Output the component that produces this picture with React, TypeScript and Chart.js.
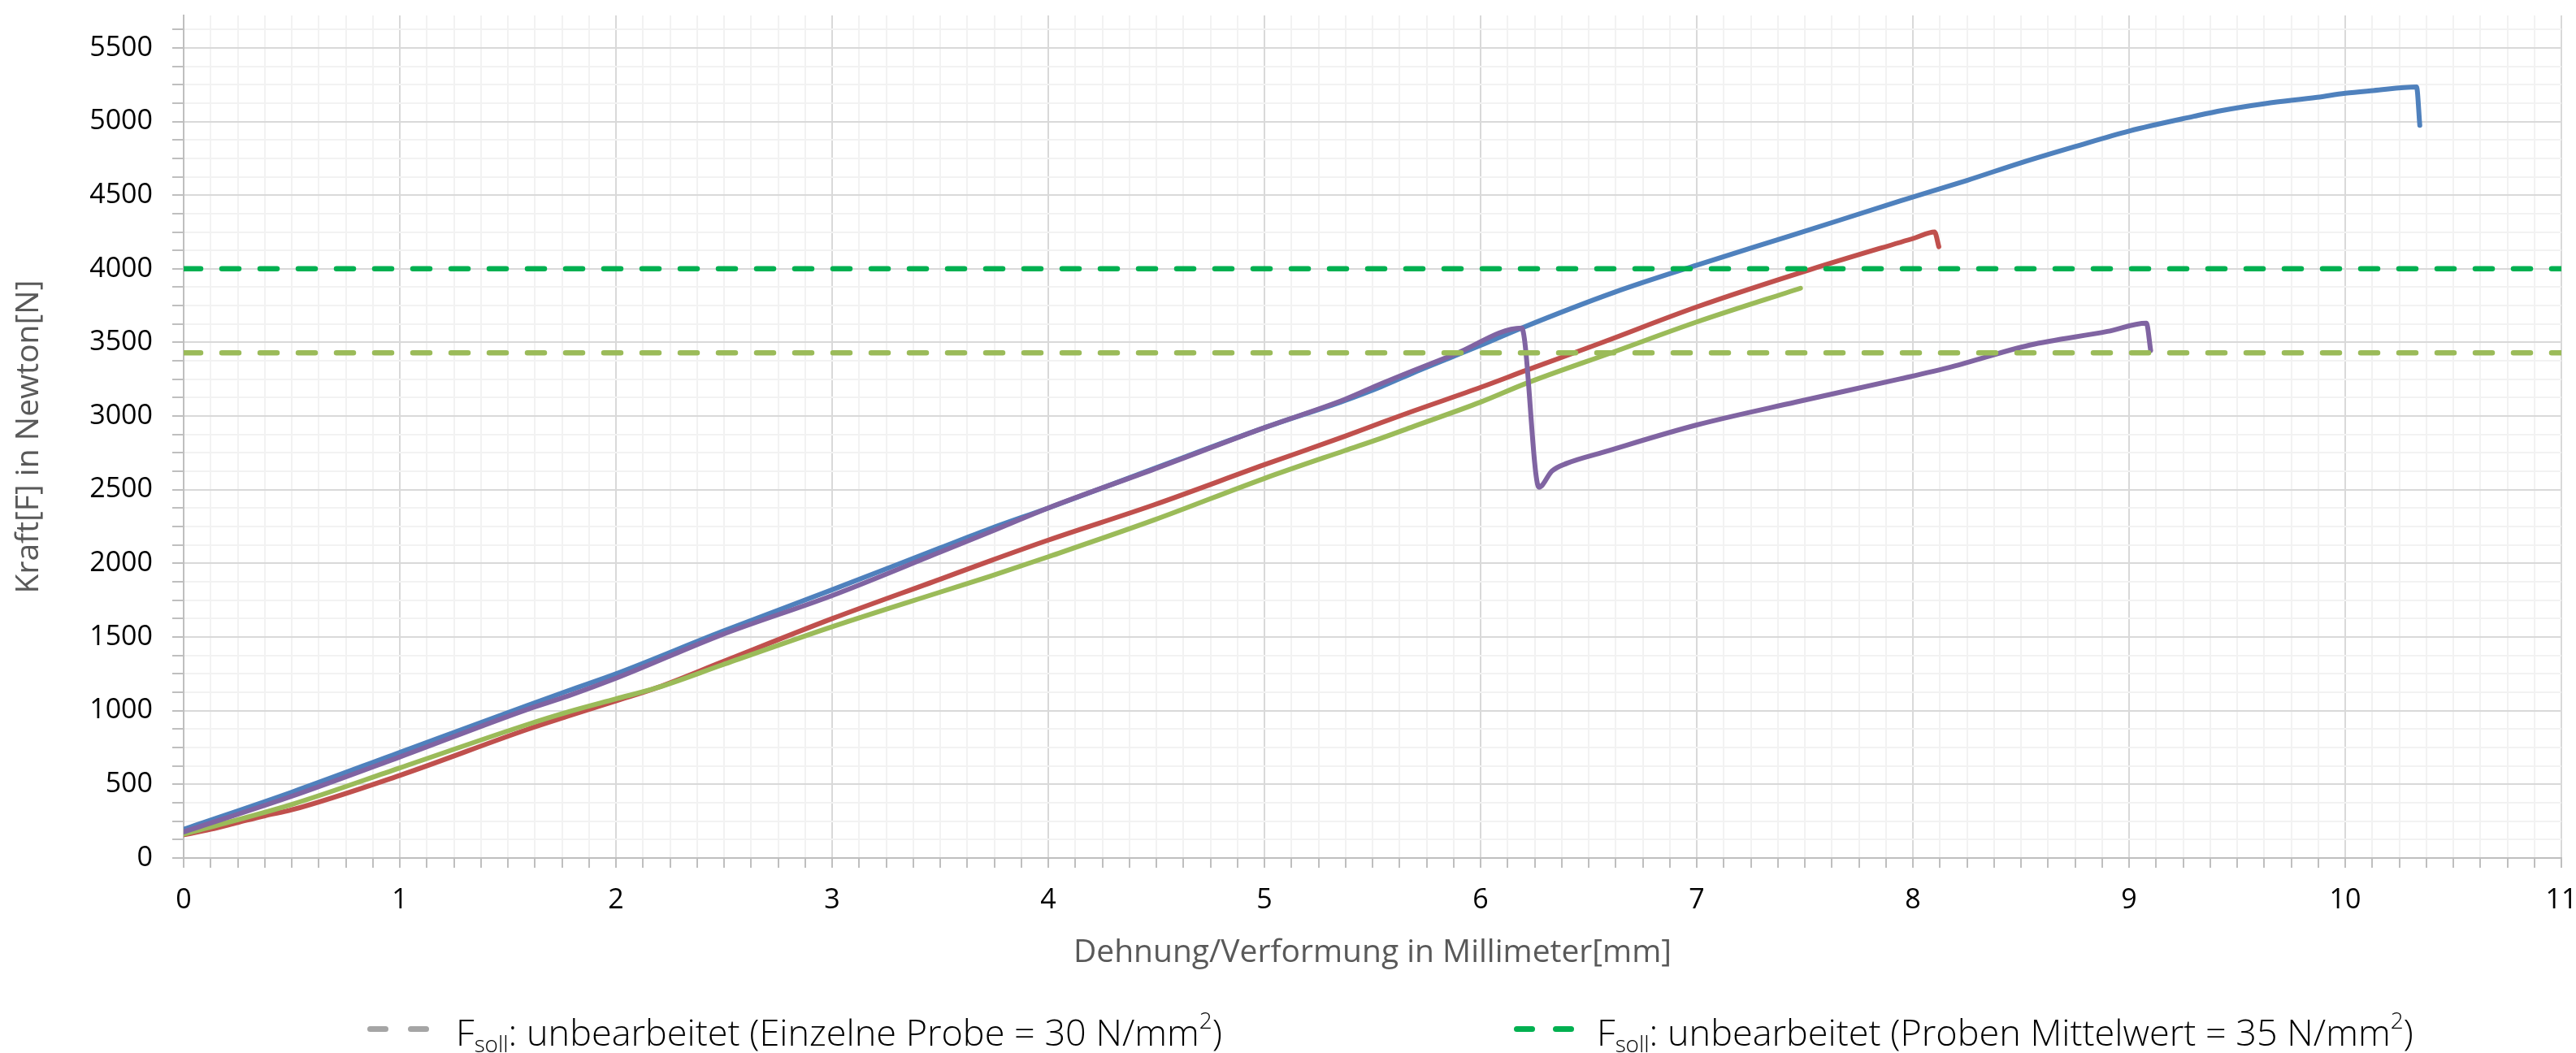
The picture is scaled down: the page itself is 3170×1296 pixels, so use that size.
import React, { useEffect, useRef } from 'react';
import { Chart, registerables } from 'chart.js';

Chart.register(...registerables);

// ---- data ----
const probeBlueX = [0, 0.5, 1, 1.59, 1.78, 2, 2.49, 3, 3.5, 3.73, 4, 4.5, 5, 5.37, 5.54, 5.69, 6, 6.19, 6.62, 7, 7.44, 7.94, 8.25, 8.5, 8.75, 9, 9.3, 9.43, 9.63, 9.87, 10, 10.13, 10.33, 10.345];
const probeBlueY = [195, 447, 717, 1035, 1136, 1250, 1537, 1821, 2105, 2235, 2376, 2650, 2921, 3105, 3200, 3295, 3480, 3598, 3841, 4025, 4227, 4460, 4600, 4720, 4830, 4935, 5035, 5075, 5122, 5164, 5192, 5210, 5234, 4974];

const probeRedX = [0, 0.125, 0.25, 0.376, 0.5, 1, 1.59, 1.78, 2, 2.19, 2.49, 3, 3.5, 3.73, 4, 4.49, 5, 5.37, 5.54, 5.69, 6, 6.21, 6.55, 7, 7.53, 8.01, 8.1, 8.12];
const probeRedY = [158, 195, 241, 287, 327, 561, 873, 964, 1067, 1156, 1330, 1625, 1893, 2017, 2158, 2398, 2670, 2862, 2955, 3035, 3195, 3310, 3493, 3741, 3997, 4210, 4250, 4150];

const probeGreenX = [0, 0.5, 1, 1.59, 1.78, 2, 2.19, 2.49, 3, 3.5, 3.73, 4, 4.49, 5, 5.37, 5.54, 5.69, 6, 6.21, 6.62, 7, 7.48];
const probeGreenY = [162, 364, 612, 906, 992, 1080, 1156, 1310, 1570, 1805, 1912, 2045, 2295, 2577, 2765, 2850, 2930, 3095, 3222, 3438, 3639, 3868];

const probePurpleX = [0, 0.5, 1, 1.59, 1.78, 2, 2.49, 3, 3.5, 3.73, 4, 4.49, 5, 5.37, 5.54, 5.69, 5.88, 6.19, 6.27, 6.33, 6.4, 6.57, 7, 7.46, 7.94, 8.18, 8.54, 8.9, 9.08, 9.1];
const probePurpleY = [177, 419, 686, 1009, 1101, 1220, 1516, 1782, 2077, 2213, 2376, 2640, 2921, 3112, 3220, 3310, 3420, 3598, 2517, 2627, 2680, 2756, 2940, 3096, 3252, 3335, 3482, 3575, 3631, 3445];

const fsollEinzel = 3430; // 30 N/mm²
const fsollMittel = 4000; // 35 N/mm²
const lineRangeX = [0, 11];

const xMin = 0;
const xMax = 11;
const xMinorStep = 0.125;
const yMin = 0;
const yMax = 5720;
const yMinorStep = 125;
const yMajorStep = 500;

const xTitle = 'Dehnung/Verformung in Millimeter[mm]';
const yTitle = 'Kraft[F] in Newton[N]';

const toPoints = (xs: number[], ys: number[]) => xs.map((x, i) => ({ x, y: ys[i] }));

const FONT = "'Open Sans', 'Noto Sans', sans-serif";

export default function App() {
  const canvasRef = useRef<HTMLCanvasElement | null>(null);

  useEffect(() => {
    if (!canvasRef.current) return;
    const common = {
      pointRadius: 0,
      pointHoverRadius: 0,
      borderWidth: 6,
      tension: 0,
      cubicInterpolationMode: 'monotone' as const,
      fill: false,
      borderJoinStyle: 'round' as const,
      borderCapStyle: 'round' as const,
    };
    const xTicks: number[] = [];
    for (let i = 0; i <= Math.round((xMax - xMin) / xMinorStep); i++) xTicks.push(xMin + i * xMinorStep);
    const yTicks: number[] = [];
    for (let v = yMin; v < yMax; v += yMinorStep) yTicks.push(v);

    const chart = new Chart(canvasRef.current, {
      type: 'line',
      data: {
        datasets: [
          {
            ...common,
            cubicInterpolationMode: 'default' as const,
            label: 'Fsoll Mittelwert',
            data: toPoints(lineRangeX, [fsollMittel, fsollMittel]),
            borderColor: '#00B050',
            borderDash: [21, 26],
            borderWidth: 6.5,
            order: 0,
          },
          {
            ...common,
            cubicInterpolationMode: 'default' as const,
            label: 'Fsoll Einzel',
            data: toPoints(lineRangeX, [fsollEinzel, fsollEinzel]),
            borderColor: '#9BBB59',
            borderDash: [21, 26],
            borderWidth: 6.5,
            order: 0,
          },
          { ...common, label: 'Probe 4', data: toPoints(probePurpleX, probePurpleY), borderColor: '#8064A2', order: 1 },
          { ...common, label: 'Probe 3', data: toPoints(probeGreenX, probeGreenY), borderColor: '#9BBB59', order: 2 },
          { ...common, label: 'Probe 2', data: toPoints(probeRedX, probeRedY), borderColor: '#C0504D', order: 3 },
          { ...common, label: 'Probe 1', data: toPoints(probeBlueX, probeBlueY), borderColor: '#4F81BD', order: 4 },
        ],
      },
      options: {
        responsive: false,
        animation: false,
        events: [],
        layout: { padding: { top: 19, right: 18, left: 0, bottom: 0 } },
        plugins: { legend: { display: false }, tooltip: { enabled: false } },
        scales: {
          x: {
            type: 'linear',
            min: xMin,
            max: xMax,
            afterBuildTicks: (s: any) => {
              s.ticks = xTicks.map((v) => ({ value: v }));
            },
            afterFit: (s: any) => {
              s.height = 240;
              s.paddingLeft = 0;
              s.paddingRight = 0;
            },
            ticks: {
              autoSkip: false,
              maxRotation: 0,
              minRotation: 0,
              padding: 20,
              color: '#000000',
              font: { family: FONT, size: 34 },
              callback: (v: any) => (Math.abs(v - Math.round(v)) < 1e-9 ? String(Math.round(v)) : ''),
            },
            grid: {
              color: (ctx: any) => (Math.abs(ctx.tick.value - Math.round(ctx.tick.value)) < 1e-9 ? '#D9D9D9' : '#F2F2F2'),
              lineWidth: 2,
              tickLength: 12,
              tickColor: '#BFBFBF',
              tickWidth: 2,
            },
            border: { color: '#BFBFBF', width: 2 },
            title: {
              display: true,
              text: xTitle,
              color: '#595959',
              font: { family: FONT, size: 39 },
              padding: { top: 0, bottom: 100 },
            },
          },
          y: {
            type: 'linear',
            min: yMin,
            max: yMax,
            afterBuildTicks: (s: any) => {
              s.ticks = yTicks.map((v) => ({ value: v }));
            },
            afterFit: (s: any) => {
              s.width = 226;
              s.paddingTop = 0;
              s.paddingBottom = 0;
            },
            ticks: {
              autoSkip: false,
              padding: 24,
              color: '#000000',
              font: { family: FONT, size: 34 },
              callback: (v: any) => (v % yMajorStep === 0 ? String(v) : ''),
            },
            grid: {
              color: (ctx: any) => (ctx.tick.value % yMajorStep === 0 ? '#D9D9D9' : '#F2F2F2'),
              lineWidth: 2,
              tickLength: 14,
              tickColor: '#BFBFBF',
              tickWidth: 2,
            },
            border: { color: '#BFBFBF', width: 2 },
            title: {
              display: true,
              text: yTitle,
              color: '#595959',
              font: { family: FONT, size: 39 },
              padding: { top: 12, bottom: 0 },
            },
          },
        },
      },
    });
    return () => chart.destroy();
  }, []);

  const dash = (left: number, color: string) => (
    <div
      style={{
        position: 'absolute',
        left,
        top: 1263,
        width: 26,
        height: 7,
        borderRadius: 3.5,
        background: color,
      }}
    />
  );

  const textStyle: React.CSSProperties = {
    position: 'absolute',
    top: 1242,
    fontFamily: FONT,
    fontWeight: 300,
    fontSize: 45,
    lineHeight: 1,
    color: '#000000',
    whiteSpace: 'nowrap',
  };
  const subStyle: React.CSSProperties = { fontSize: '0.62em', verticalAlign: '-0.3em' };
  const supStyle: React.CSSProperties = { fontSize: '0.62em', verticalAlign: '0.75em' };

  return (
    <div style={{ position: 'absolute', left: 0, top: 0, width: 3170, height: 1296, background: '#ffffff', overflow: 'hidden' }}>
      <canvas ref={canvasRef} width={3170} height={1296} style={{ position: 'absolute', left: 0, top: 0, width: 3170, height: 1296 }} />
      {dash(452, '#A5A5A5')}
      {dash(502, '#A5A5A5')}
      <div style={{ ...textStyle, left: 561 }}>
        F<span style={subStyle}>soll</span>: unbearbeitet (Einzelne Probe = 30 N/mm<span style={supStyle}>2</span>)
      </div>
      {dash(1863, '#00B050')}
      {dash(1911, '#00B050')}
      <div style={{ ...textStyle, left: 1965 }}>
        F<span style={subStyle}>soll</span>: unbearbeitet (Proben Mittelwert = 35 N/mm<span style={supStyle}>2</span>)
      </div>
    </div>
  );
}
